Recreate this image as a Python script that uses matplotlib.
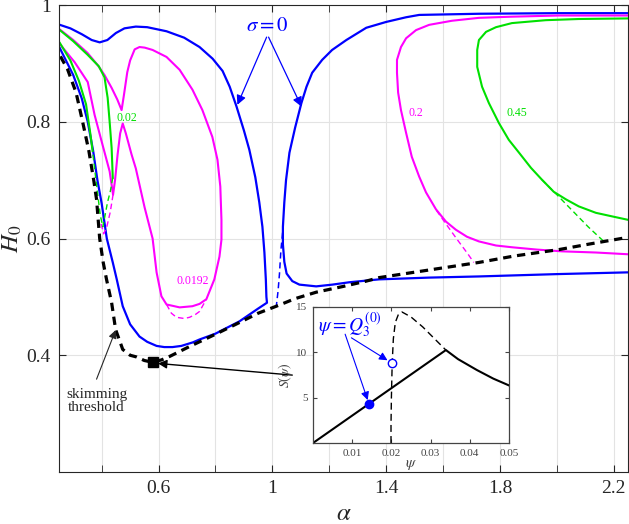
import matplotlib
matplotlib.use("Agg")
import matplotlib.pyplot as plt

plt.rcParams['font.family'] = ['Liberation Serif', 'DejaVu Serif']
plt.rcParams['mathtext.fontset'] = 'stix'
plt.rcParams['lines.solid_joinstyle'] = 'round'
plt.rcParams['lines.dash_joinstyle'] = 'round'

# ---------------- data (alpha, H0) ----------------
# sigma = 0, left branch (upper part then lower part, one path)
blue_l_a = [0.253, 0.29, 0.33, 0.365, 0.393, 0.42, 0.45, 0.48, 0.52, 0.56, 0.628, 0.69, 0.744, 0.79,
            0.825, 0.85, 0.874, 0.90, 0.919, 0.94, 0.954, 0.965, 0.972, 0.977, 0.979, 0.981,
            0.95, 0.92, 0.884, 0.86, 0.80, 0.744, 0.72, 0.68, 0.649, 0.62, 0.593, 0.56, 0.533,
            0.50, 0.474, 0.453, 0.439, 0.418, 0.40, 0.385, 0.37, 0.351, 0.33, 0.30, 0.253]
blue_l_h = [0.966, 0.960, 0.950, 0.940, 0.936, 0.940, 0.952, 0.960, 0.963, 0.962, 0.955, 0.944, 0.928, 0.908,
            0.887, 0.860, 0.826, 0.785, 0.752, 0.705, 0.662, 0.620, 0.576, 0.530, 0.500, 0.490,
            0.480, 0.470, 0.458, 0.452, 0.437, 0.427, 0.422, 0.416, 0.414, 0.414, 0.416, 0.423, 0.432,
            0.453, 0.484, 0.530, 0.559, 0.600, 0.660, 0.700, 0.750, 0.800, 0.840, 0.880, 0.926]
# sigma = 0, right branch
blue_r_a = [2.25, 2.0, 1.726, 1.516, 1.47, 1.40, 1.33, 1.26, 1.21, 1.175, 1.14, 1.12, 1.102, 1.08,
            1.06, 1.048, 1.042, 1.037, 1.037, 1.042, 1.05, 1.07, 1.095, 1.154, 1.211, 1.27, 1.375,
            1.55, 1.726, 2.0, 2.25]
blue_r_h = [0.986, 0.986, 0.985, 0.983, 0.979, 0.971, 0.961, 0.940, 0.923, 0.906, 0.884, 0.860, 0.832, 0.790,
            0.747, 0.700, 0.662, 0.620, 0.590, 0.560, 0.540, 0.527, 0.521, 0.518, 0.521, 0.525, 0.530,
            0.533, 0.535, 0.539, 0.542]
blue_r_dash_a = [1.036, 1.03, 1.025, 1.02, 1.014]
blue_r_dash_h = [0.610, 0.580, 0.540, 0.510, 0.485]

# skimming threshold
skim_a = [0.255, 0.28, 0.31, 0.333, 0.355, 0.372, 0.382, 0.393, 0.405, 0.417, 0.435, 0.449, 0.474, 0.50,
          0.523, 0.55, 0.579, 0.61, 0.639, 0.709, 0.80, 0.884, 0.95, 1.014, 1.08, 1.154, 1.25, 1.33,
          1.375, 1.55, 1.726, 1.85, 2.007, 2.12, 2.25]
skim_h = [0.912, 0.890, 0.850, 0.800, 0.750, 0.700, 0.667, 0.600, 0.560, 0.530, 0.490, 0.444, 0.410, 0.400,
          0.397, 0.391, 0.388, 0.392, 0.398, 0.415, 0.436, 0.456, 0.472, 0.484, 0.497, 0.508, 0.518, 0.527,
          0.533, 0.546, 0.559, 0.570, 0.581, 0.591, 0.602]
skim_pt_a, skim_pt_h = 0.579, 0.388

# sigma = 0.0192
mag1_a = [0.253, 0.30, 0.35, 0.386, 0.41, 0.435, 0.455, 0.47, 0.478, 0.49, 0.50, 0.516, 0.533, 0.551,
          0.579, 0.628, 0.674, 0.719, 0.754, 0.789, 0.807, 0.817, 0.821, 0.821, 0.814, 0.796, 0.768,
          0.744, 0.719, 0.674, 0.628, 0.61, 0.593, 0.579, 0.551, 0.52, 0.505, 0.485, 0.474,
          0.465, 0.456, 0.447, 0.44, 0.428, 0.40, 0.375, 0.351, 0.305, 0.253]
mag1_h = [0.958, 0.940, 0.918, 0.897, 0.880, 0.858, 0.838, 0.820, 0.845, 0.885, 0.905, 0.924, 0.928, 0.927,
          0.923, 0.911, 0.889, 0.855, 0.820, 0.774, 0.735, 0.689, 0.632, 0.598, 0.569, 0.530, 0.496,
          0.488, 0.484, 0.482, 0.487, 0.501, 0.542, 0.600, 0.653, 0.720, 0.744, 0.780, 0.797,
          0.780, 0.744, 0.700, 0.675, 0.715, 0.766, 0.812, 0.868, 0.902, 0.933]
mag1_dash_a = [0.44, 0.43, 0.418, 0.407, 0.398]
mag1_dash_h = [0.675, 0.645, 0.620, 0.608, 0.625]
mag1_dash2_a = [0.628, 0.645, 0.663, 0.69, 0.709, 0.73, 0.744, 0.768]
mag1_dash2_h = [0.487, 0.472, 0.465, 0.463, 0.465, 0.470, 0.475, 0.496]

# sigma = 0.02
grn1_a = [0.253, 0.30, 0.35, 0.39, 0.41, 0.421, 0.428, 0.435, 0.437, 0.439]
grn1_h = [0.957, 0.938, 0.915, 0.895, 0.876, 0.841, 0.800, 0.755, 0.730, 0.704]
grn1_in_a = [0.368, 0.36, 0.345, 0.32, 0.29, 0.253]
grn1_in_h = [0.750, 0.780, 0.830, 0.870, 0.905, 0.935]
grn1_dash_a = [0.439, 0.43, 0.421, 0.41, 0.404, 0.395, 0.385, 0.375, 0.368]
grn1_dash_h = [0.704, 0.680, 0.663, 0.635, 0.620, 0.640, 0.680, 0.720, 0.750]

# sigma = 0.2
mag2_a = [2.25, 2.007, 1.842, 1.726, 1.631, 1.551, 1.505, 1.47, 1.452, 1.438, 1.438, 1.442, 1.452,
          1.47, 1.49, 1.516, 1.54, 1.575, 1.61, 1.645, 1.684, 1.726, 1.786, 1.842, 1.93, 2.018,
          2.137, 2.25]
mag2_h = [0.982, 0.982, 0.980, 0.978, 0.973, 0.966, 0.957, 0.943, 0.928, 0.906, 0.884, 0.850, 0.820,
          0.781, 0.740, 0.706, 0.679, 0.650, 0.629, 0.615, 0.603, 0.595, 0.588, 0.585, 0.581, 0.578,
          0.576, 0.573]
mag2_dash_a = [1.577, 1.61, 1.65, 1.685, 1.708]
mag2_dash_h = [0.648, 0.625, 0.598, 0.575, 0.559]

# sigma = 0.45
grn2_a = [2.25, 2.077, 1.961, 1.842, 1.786, 1.751, 1.726, 1.72, 1.72, 1.737, 1.761, 1.796, 1.831,
          1.867, 1.909, 1.947, 1.989, 2.032, 2.077, 2.137, 2.193, 2.25]
grn2_h = [0.977, 0.976, 0.974, 0.969, 0.962, 0.954, 0.940, 0.923, 0.894, 0.860, 0.832, 0.798, 0.769,
          0.747, 0.721, 0.701, 0.680, 0.667, 0.655, 0.644, 0.638, 0.632]
grn2_dash_a = [1.947, 2.0, 2.05, 2.11, 2.165]
grn2_dash_h = [0.701, 0.675, 0.650, 0.620, 0.595]

# inset S(psi)
s_psi = [0.0, 0.0339, 0.037, 0.0418, 0.046, 0.05]
s_val = [0.0, 10.25, 9.25, 8.05, 7.1, 6.35]
s_dash_psi = [0.0199, 0.0199, 0.0200, 0.0202, 0.0205, 0.0210, 0.0218, 0.0227, 0.025, 0.028, 0.031, 0.0339]
s_dash_val = [0.0, 2.0, 5.0, 8.8, 11.5, 13.3, 14.2, 14.45, 13.9, 12.8, 11.5, 10.25]
q_solid = (0.0143, 4.3)
q_open = (0.0202, 8.8)

BLUE = '#0000ff'
MAG = '#ff00ff'
GRN = '#00e000'
GREY = '#262626'

fig = plt.figure(figsize=(6.29, 5.24), dpi=100)
ax = fig.add_axes([59 / 629, 52 / 524, 569 / 629, 467 / 524])

ax.plot(blue_l_a, blue_l_h, color=BLUE, lw=1.6)
ax.plot(blue_r_a, blue_r_h, color=BLUE, lw=1.6)
ax.plot(blue_r_dash_a, blue_r_dash_h, color=BLUE, lw=1.1, dashes=(4, 2.5))

ax.plot(mag1_a, mag1_h, color=MAG, lw=1.5)
ax.plot(mag1_dash_a, mag1_dash_h, color=MAG, lw=1.0, dashes=(4, 2.5))
ax.plot(mag1_dash2_a, mag1_dash2_h, color=MAG, lw=1.0, dashes=(4, 2.5))
ax.plot(grn1_a, grn1_h, color=GRN, lw=1.5)
ax.plot(grn1_in_a, grn1_in_h, color=GRN, lw=1.5)
ax.plot(grn1_dash_a, grn1_dash_h, color=GRN, lw=1.0, dashes=(4, 2.5))

ax.plot(mag2_a, mag2_h, color=MAG, lw=1.5)
ax.plot(mag2_dash_a, mag2_dash_h, color=MAG, lw=1.0, dashes=(4, 2.5))
ax.plot(grn2_a, grn2_h, color=GRN, lw=1.5)
ax.plot(grn2_dash_a, grn2_dash_h, color=GRN, lw=1.0, dashes=(4, 2.5))

ax.plot(skim_a, skim_h, color='k', lw=2.3, dashes=(2.6, 1.8))
ax.plot([skim_pt_a], [skim_pt_h], 's', color='k', ms=7)

# curve labels
ax.text(0.453, 0.807, '0.02', color=GRN, fontsize=8.5, va='center')
ax.text(0.719, 0.527, '0.0192', color=MAG, fontsize=8.5, ha='center', va='center')
ax.text(1.505, 0.815, '0.2', color=MAG, fontsize=8.5, ha='center', va='center')
ax.text(1.86, 0.815, '0.45', color=GRN, fontsize=8.5, ha='center', va='center')

# sigma = 0 annotation
ax.text(0.983, 0.963, r'$\sigma = 0$', color=BLUE, fontsize=15, ha='center', va='center')
for tip in [(0.877, 0.829), (1.102, 0.826)]:
    ax.annotate('', xy=tip, xytext=(0.983 + (tip[0] - 0.983) * 0.03, 0.945),
                arrowprops=dict(arrowstyle='-|>', color=BLUE, lw=0.9, mutation_scale=14,
                                shrinkA=0, shrinkB=0))

# skimming threshold annotation
ax.text(0.382, 0.322, 'skimming\nthreshold', ha='center', va='center', multialignment='center',
        fontsize=11, color=GREY, linespacing=1.0)
ax.annotate('', xy=(0.449, 0.443), xytext=(0.382, 0.359),
            arrowprops=dict(arrowstyle='-|>', color=GREY, lw=0.8, mutation_scale=12,
                            shrinkA=0, shrinkB=0))
ax.annotate('', xy=(0.598, 0.386), xytext=(1.07, 0.366),
            arrowprops=dict(arrowstyle='-|>', color='k', lw=1.0, mutation_scale=13,
                            shrinkA=0, shrinkB=0))

ax.set_xlim(0.25, 2.25)
ax.set_ylim(0.2, 1.0)
ax.set_xticks([0.6, 1.0, 1.4, 1.8, 2.2])
ax.set_xticklabels(['0.6', '1', '1.4', '1.8', '2.2'])
ax.set_xticks([0.4, 0.8, 1.2, 1.6, 2.0], minor=True)
ax.set_yticks([0.4, 0.6, 0.8, 1.0])
ax.set_yticklabels(['0.4', '0.6', '0.8', '1'])
ax.grid(True, which='both', color='#e3e3e3', lw=0.8)
ax.set_axisbelow(True)
ax.tick_params(which='both', direction='in', top=True, right=True, length=5,
               labelsize=14, colors=GREY, pad=6)
for s in ax.spines.values():
    s.set_color(GREY)
    s.set_linewidth(0.8)
ax.set_xlabel(r'$\alpha$', fontsize=18, color=GREY, labelpad=4)
ax.set_ylabel(r'$H_0$', fontsize=18, color=GREY, labelpad=2)

# ---------------- inset ----------------
ax_in = fig.add_axes([313 / 629, 81 / 524, 196 / 629, 136 / 524])
ax_in.set_facecolor('white')
ax_in.plot(s_psi, s_val, color='k', lw=1.5)
ax_in.plot(s_dash_psi, s_dash_val, color='k', lw=1.0, dashes=(5, 3))
ax_in.plot(*q_solid, 'o', color=BLUE, ms=6)
ax_in.plot(*q_open, 'o', mfc='white', mec=BLUE, mew=1.0, ms=6)
ax_in.set_xlim(0, 0.05)
ax_in.set_ylim(0, 15)
ax_in.set_xticks([0.01, 0.02, 0.03, 0.04, 0.05])
ax_in.set_xticklabels(['0.01', '0.02', '0.03', '0.04', '0.05'])
ax_in.set_yticks([5, 10, 15])
ax_in.tick_params(direction='in', top=True, right=True, length=3, labelsize=8,
                  colors='#444444', pad=4)
for s in ax_in.spines.values():
    s.set_color('#444444')
    s.set_linewidth(0.9)
ax_in.set_xlabel(r'$\psi$', fontsize=11, color='#444444', labelpad=0)
ax_in.set_ylabel(r'$S(\psi)$', fontsize=10, color='#444444', labelpad=2)

ax_in.text(0.0012, 13.0, r'$\psi = Q_3^{(0)}$', color=BLUE, fontsize=14, va='center')
ax_in.annotate('', xy=q_solid, xytext=(0.0082, 12.0),
               arrowprops=dict(arrowstyle='-|>', color=BLUE, lw=0.8, mutation_scale=12,
                               shrinkA=0, shrinkB=3))
ax_in.annotate('', xy=q_open, xytext=(0.0098, 11.6),
               arrowprops=dict(arrowstyle='-|>', color=BLUE, lw=0.8, mutation_scale=12,
                               shrinkA=0, shrinkB=4))

fig.savefig('out.png', dpi=100)
